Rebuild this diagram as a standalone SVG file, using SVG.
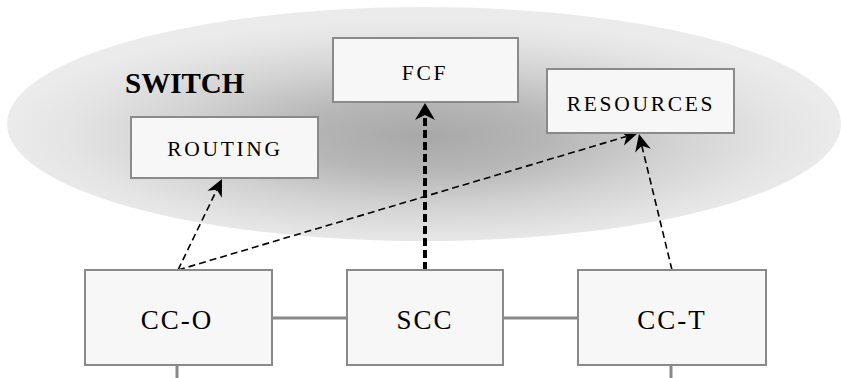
<svg xmlns="http://www.w3.org/2000/svg" width="841" height="378" viewBox="0 0 841 378">
<style>
.box{fill:#f7f7f7;stroke:#8a8a8a;stroke-width:2}
.lbl{font-family:"Liberation Serif","Times New Roman",serif;fill:#000;text-anchor:middle}
.small{font-size:21.5px;letter-spacing:2.7px}
.big{font-size:27px;letter-spacing:2px}
.link{stroke:#888;stroke-width:3;fill:none}
.thin{stroke:#000;stroke-width:1.6;stroke-dasharray:7,4;fill:none}
.thick{stroke:#000;stroke-width:4;stroke-dasharray:8,4;fill:none}
</style>
<defs>
<radialGradient id="sw" cx="0.5" cy="0.55" r="0.5">
<stop offset="0" stop-color="#a8a8a8"/>
<stop offset="0.3" stop-color="#b6b6b6"/>
<stop offset="0.6" stop-color="#d2d2d2"/>
<stop offset="0.85" stop-color="#e4e4e4"/>
<stop offset="1" stop-color="#ebebeb"/>
</radialGradient>
<marker id="ah" viewBox="0 0 20 20" refX="8" refY="10" markerWidth="20" markerHeight="20" markerUnits="userSpaceOnUse" orient="auto">
<path d="M20,10 L3,2 L8,10 L3,18 Z" fill="#000"/>
</marker>
<marker id="ahb" viewBox="0 0 20 22" refX="8" refY="11" markerWidth="20" markerHeight="22" markerUnits="userSpaceOnUse" orient="auto">
<path d="M20,11 L3,1 L8,11 L3,21 Z" fill="#000"/>
</marker>
</defs>
<g id="switch">
<ellipse cx="424" cy="124" rx="417" ry="117" fill="url(#sw)"/>
<text x="125" y="93" font-family="Liberation Serif,'Times New Roman',serif" font-weight="bold" font-size="29" fill="#000">SWITCH</text>
</g>
<g id="connectors">
<line class="link" x1="272" y1="318" x2="347" y2="318"/>
<line class="link" x1="503" y1="318" x2="578" y2="318"/>
<line class="link" x1="177" y1="365" x2="177" y2="378"/>
<line class="link" x1="671" y1="365" x2="671" y2="378"/>
<line class="thin" x1="178" y1="270" x2="216.8" y2="189.8" marker-end="url(#ah)"/>
<line class="thin" x1="178" y1="270" x2="626.5" y2="136.4" marker-end="url(#ah)"/>
<line class="thin" x1="672" y1="270" x2="641.8" y2="145.7" marker-end="url(#ah)"/>
<line class="thick" x1="425" y1="270" x2="425" y2="115" marker-end="url(#ahb)"/>
</g>
<g id="fcf">
<rect class="box" x="333" y="38" width="185" height="64"/>
<text class="lbl small" x="425" y="80">FCF</text>
</g>
<g id="routing">
<rect class="box" x="131" y="117" width="187" height="61"/>
<text class="lbl small" x="225" y="156">ROUTING</text>
</g>
<g id="resources">
<rect class="box" x="547" y="69" width="187" height="64"/>
<text class="lbl small" x="641" y="111">RESOURCES</text>
</g>
<g id="cc-o">
<rect class="box" x="85" y="270" width="187" height="95"/>
<text class="lbl big" x="177" y="329">CC-O</text>
</g>
<g id="scc">
<rect class="box" x="347" y="270" width="156" height="95"/>
<text class="lbl big" x="425" y="329">SCC</text>
</g>
<g id="cc-t">
<rect class="box" x="578" y="270" width="188" height="95"/>
<text class="lbl big" x="672" y="329">CC-T</text>
</g>
</svg>
